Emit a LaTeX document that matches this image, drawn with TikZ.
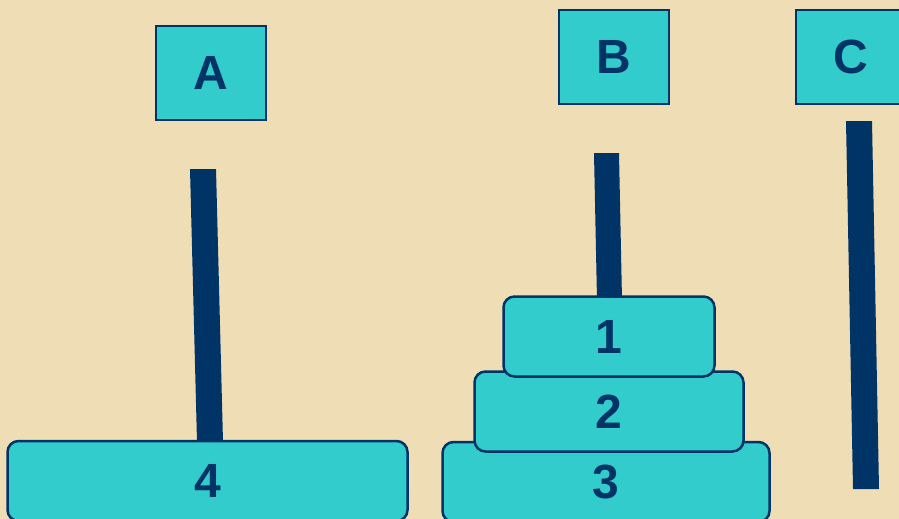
\documentclass[tikz,border=0pt]{standalone}
\usepackage{fontspec}
\setmainfont{Liberation Sans}
\definecolor{bg}{HTML}{EFDDB6}
\definecolor{navy}{HTML}{003366}
\definecolor{teal}{HTML}{33CCCC}
\tikzset{
  label box/.style={draw=navy, line width=2.5pt, fill=teal, text=navy, inner sep=0pt,
    minimum width=110pt, minimum height=94pt, font=\fontsize{48}{48}\selectfont\bfseries},
  disk/.style={draw=navy, line width=2.5pt, fill=teal, text=navy, inner sep=0pt,
    rounded corners=11pt, minimum height=80pt, font=\fontsize{48}{48}\selectfont\bfseries},
  pole/.style={fill=navy}
}
\begin{document}
\begin{tikzpicture}[x=1pt,y=-1pt]
\useasboundingbox (0,0) rectangle (899,519);
\clip (0,0) rectangle (899,519);
\fill[bg] (0,0) rectangle (899,519);
% poles
\fill[pole] (190,169) -- (216,169) -- (223,442) -- (197,442) -- cycle;
\fill[pole] (594,153) -- (619,153) -- (622,300) -- (597,300) -- cycle;
\fill[pole] (846,121) -- (872,121) -- (879,489) -- (853,489) -- cycle;
% labels
\node[label box] (A) at (211,73) {A};
\node[label box] (B) at (614,57) {B};
\node[label box] (C) at (851,57) {C};
% disks
\node[disk, minimum width=400pt] (d4) at (207.5,481) {4};
\node[disk, minimum width=327pt] (d3) at (606,482) {3};
\node[disk, minimum width=269pt] (d2) at (609,411.5) {2};
\node[disk, minimum width=211pt] (d1) at (609,336.5) {1};
\end{tikzpicture}
\end{document}
